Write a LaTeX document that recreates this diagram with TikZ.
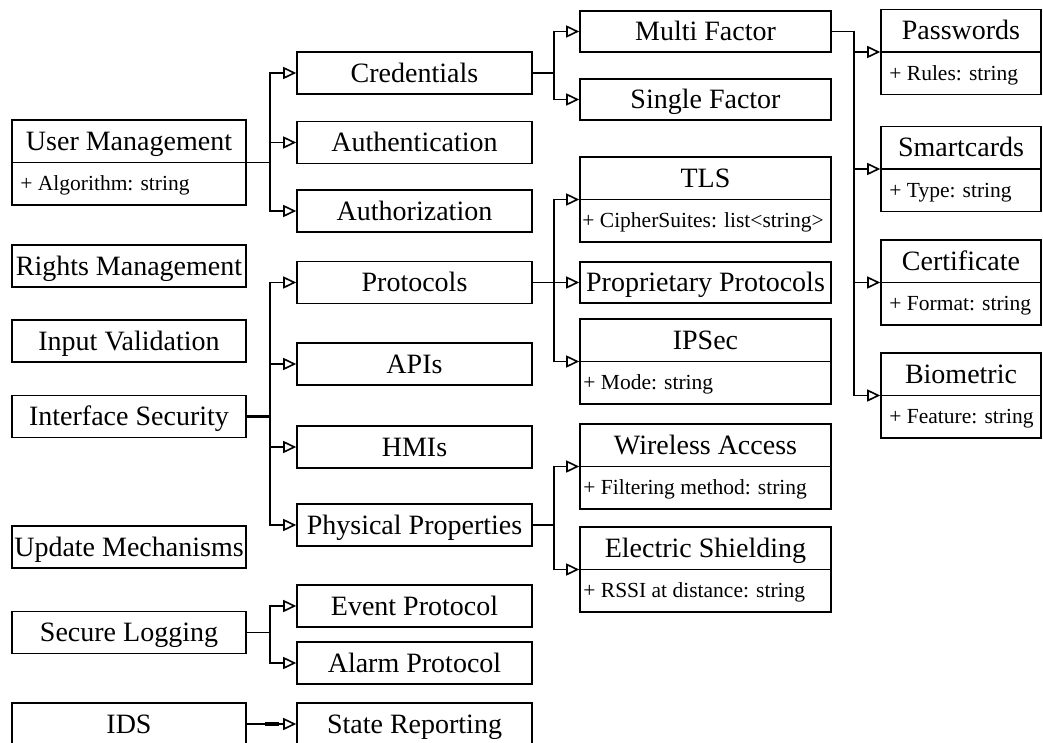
\documentclass[tikz,border=0pt]{standalone}
\usepackage{fontspec}
\setmainfont{Liberation Serif}
\usetikzlibrary{arrows.meta}
\tikzset{
  boxst/.style={draw, line width=1.6pt, inner sep=0pt, minimum height=42pt,
    font=\fontsize{28}{30}\selectfont, text height=20pt, text depth=1.5pt},
  umlst/.style={draw, line width=1.6pt, inner sep=0pt, minimum height=85pt},
  hdr/.style={inner sep=0pt, font=\fontsize{28}{30}\selectfont, text height=20pt, text depth=1.5pt},
  attr/.style={inner sep=0pt, anchor=west, font=\fontsize{21.5}{24}\selectfont, text height=15pt, text depth=0.7pt},
  conn/.style={line width=1.6pt, -{Triangle[open, length=13pt, width=12pt]}},
  thickstub/.style={line width=3.2pt},
  colL/.style={minimum width=234pt},
  colM/.style={minimum width=235pt},
  colT/.style={minimum width=251pt},
}
\newcommand{\umlnode}[7]{%
  \node[umlst, minimum width=#4] (#1) at (#2,#3) {};
  \draw[line width=1.6pt] (#1.west) -- (#1.east);
  \node[hdr] (#1-h) at ([yshift=21.25pt]#1.center) {#5};
  \node[attr] (#1-a) at ([xshift=#7, yshift=-21.25pt]#1.west) {#6};
}
\begin{document}
\begin{tikzpicture}[x=1pt, y=-1pt]
\useasboundingbox (0,0) rectangle (1043,743);
% left column
\umlnode{um}{129}{162.5}{234pt}{User Management}{+ Algorithm: string}{9pt}
\node[boxst, colL] (rm)  at (129,266)   {Rights Management};
\node[boxst, colL] (iv)  at (129,341)   {Input Validation};
\node[boxst, colL] (is)  at (129,416.5) {Interface Security};
\node[boxst, colL] (upd) at (129,547)   {Update Mechanisms};
\node[boxst, colL] (sl)  at (129,632.5) {Secure Logging};
\node[boxst, colL] (ids) at (129,724)   {IDS};
% middle column
\node[boxst, colM] (cred)  at (414.5,73)    {Credentials};
\node[boxst, colM] (authn) at (414.5,142.5) {Authentication};
\node[boxst, colM] (authz) at (414.5,211)   {Authorization};
\node[boxst, colM] (prot)  at (414.5,282.5) {Protocols};
\node[boxst, colM] (apis)  at (414.5,364)   {APIs};
\node[boxst, colM] (hmis)  at (414.5,447)   {HMIs};
\node[boxst, colM] (phys)  at (414.5,525)   {Physical Properties};
\node[boxst, colM] (event) at (414.5,606)   {Event Protocol};
\node[boxst, colM] (alarm) at (414.5,663)   {Alarm Protocol};
\node[boxst, colM] (state) at (414.5,724)   {State Reporting};
% third column
\node[boxst, colT, minimum height=41pt] (multi)  at (705.5,31.5) {Multi Factor};
\node[boxst, colT, minimum height=41pt] (single) at (705.5,99.5) {Single Factor};
\umlnode{tls}{705.5}{199.5}{251pt}{TLS}{+ CipherSuites: list<string>}{3pt}
\node[boxst, colT, minimum height=41pt] (prop) at (705.5,282.5) {Proprietary Protocols};
\umlnode{ipsec}{705.5}{361.5}{251pt}{IPSec}{+ Mode: string}{4pt}
\umlnode{wireless}{705.5}{466.5}{251pt}{Wireless Access}{+ Filtering method: string}{4pt}
\umlnode{electric}{705.5}{569.5}{251pt}{Electric Shielding}{+ RSSI at distance: string}{4pt}
% right column
\umlnode{pw}{961}{52}{160pt}{Passwords}{+ Rules: string}{9pt}
\umlnode{smart}{961}{169}{160pt}{Smartcards}{+ Type: string}{9pt}
\umlnode{cert}{961}{282.5}{160pt}{Certificate}{+ Format: string}{9pt}
\umlnode{bio}{961}{395.5}{160pt}{Biometric}{+ Feature: string}{9pt}
% connectors
\foreach \t in {cred,authn,authz} \draw[conn] (um.east) -- ++(23,0) |- (\t.west);
\foreach \t in {multi,single} \draw[conn] (cred.east) -- ++(21,0) |- (\t.west);
\foreach \t in {pw,smart,cert,bio} \draw[conn] (multi.east) -- ++(22,0) |- (\t.west);
\draw[thickstub] (is.east) -- ++(23,0) coordinate (istrunk);
\foreach \t in {prot,apis,hmis,phys} \draw[conn] (is.east) -- ++(23,0) |- (\t.west);
\foreach \t in {tls,prop,ipsec} \draw[conn] (prot.east) -- ++(21,0) |- (\t.west);
\foreach \t in {wireless,electric} \draw[conn] (phys.east) -- ++(21,0) |- (\t.west);
\foreach \t in {event,alarm} \draw[conn] (sl.east) -- ++(23,0) |- (\t.west);
\draw[conn] (ids.east) -- (state.west);
\draw[thickstub] ([xshift=18pt]ids.east) -- ([xshift=32pt]ids.east);
\end{tikzpicture}
\end{document}
